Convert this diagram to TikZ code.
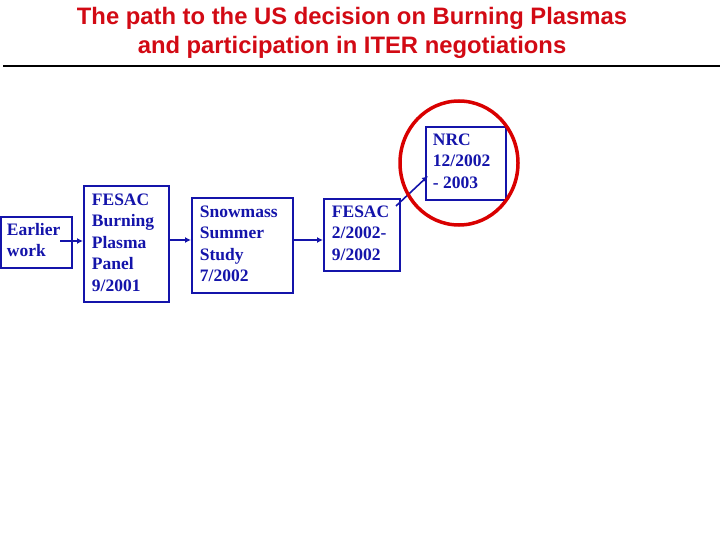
\documentclass[tikz,border=0pt]{standalone}
\usepackage{fontspec}
\setmainfont{Liberation Serif}
\newfontfamily\titlefont{Liberation Sans}
\usetikzlibrary{arrows.meta,shapes.geometric}
\definecolor{bx}{RGB}{20,20,170}
\definecolor{tred}{RGB}{210,10,20}
\begin{document}
\begin{tikzpicture}[x=1pt,y=-1pt,
  box/.style={draw=bx,line width=1.8pt,text=bx,font=\bfseries\fontsize{17.5}{21.5}\selectfont,align=left,anchor=north west,inner sep=0pt},
  arr/.style={draw=bx,line width=1.6pt,-{Latex[length=6pt,width=6pt]}}]
\useasboundingbox (0,0) rectangle (720,540);
\node[font=\titlefont\bfseries\fontsize{23.8}{29}\selectfont,text=tred,align=center] (t) at (352,33) {The path to the US decision on Burning Plasmas\\and participation in ITER negotiations};
\draw[line width=2.8pt] (3,66) -- (720,66);
\node[box,minimum width=71pt,minimum height=51pt] (a) at (0,216) {};
\node[box,draw=none] at (6,222) {Earlier\\work};
\node[box,minimum width=85pt,minimum height=116pt] (b) at (83,185) {};
\node[box,draw=none] at (91,193) {FESAC\\Burning\\Plasma\\Panel\\9/2001};
\node[box,minimum width=101pt,minimum height=95pt] (c) at (191,197) {};
\node[box,draw=none] at (199,205) {Snowmass\\Summer\\Study\\7/2002};
\node[box,minimum width=76pt,minimum height=72pt] (d) at (323,198) {};
\node[box,draw=none] at (331,205) {FESAC\\2/2002-\\9/2002};
\node[box,minimum width=80pt,minimum height=73pt] (e) at (425,126) {};
\node[box,draw=none] at (432,133) {NRC\\12/2002\\- 2003};
\coordinate (as) at (60,241);
\draw[arr] (as) -- (b.west |- as);
\draw[arr] (b.east |- 0,240) -- (c.west |- 0,240);
\draw[arr] (c.east |- 0,240) -- (d.west |- 0,240);
\coordinate (ds) at (396,206);
\draw[arr] (ds) -- (428,176);
\node[draw=red!85!black,line width=3.5pt,ellipse,minimum width=118pt,minimum height=124pt] (r) at (459,163) {};
\end{tikzpicture}
\end{document}
